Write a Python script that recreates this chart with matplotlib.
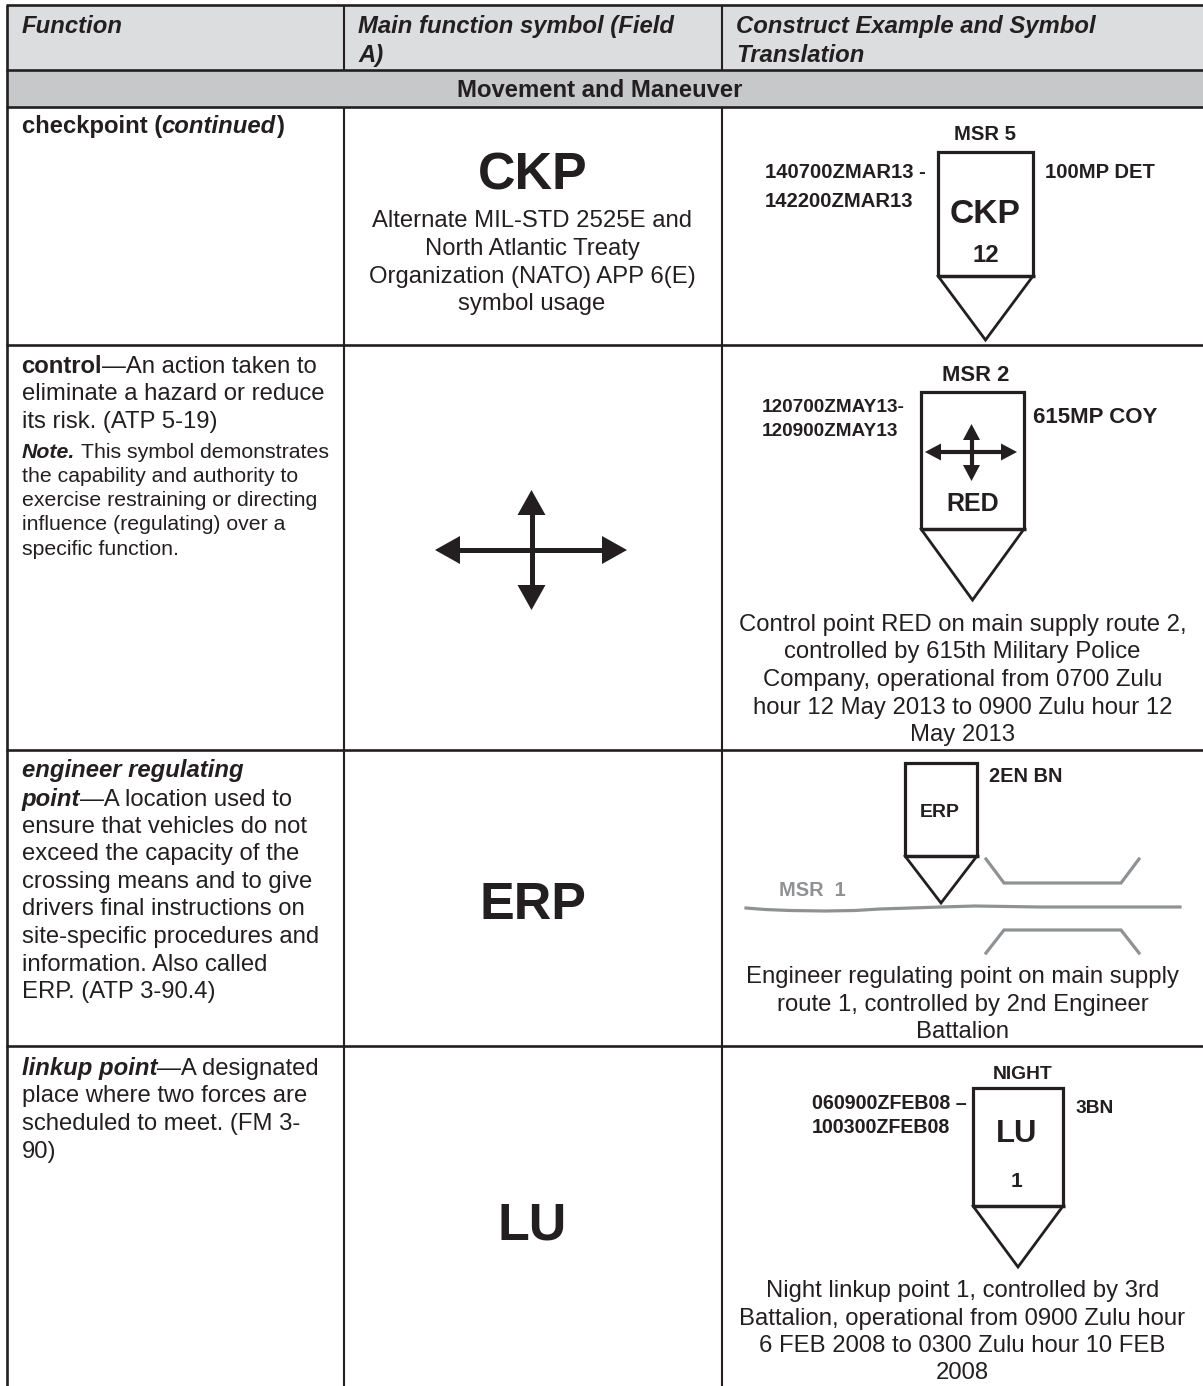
import matplotlib
matplotlib.use("Agg")
import matplotlib.pyplot as plt
from matplotlib.patches import Polygon, Rectangle

plt.rcParams['font.family'] = ['Liberation Sans', 'DejaVu Sans']

INK = '#231f20'
GREY = '#8f9193'
BODY = 23.9
NOTE = 21.3

# table text
header_cols = [["Function"], ["Main function symbol (Field", "A)"], ["Construct Example and Symbol", "Translation"]]
section_title = "Movement and Maneuver"

B, I, BI, R = ('bold', 'normal'), ('normal', 'italic'), ('bold', 'italic'), ('normal', 'normal')

checkpoint_lines = [[("checkpoint (", B), ("continued", BI), (")", B)]]
control_lines = [[("control", B), ("—An action taken to", R)],
                 [("eliminate a hazard or reduce", R)],
                 [("its risk. (ATP 5-19)", R)]]
control_note = [[("Note.", BI), (" This symbol demonstrates", R)],
                [("the capability and authority to", R)],
                [("exercise restraining or directing", R)],
                [("influence (regulating) over a", R)],
                [("specific function.", R)]]
erp_lines = [[("engineer regulating", BI)],
             [("point", BI), ("—A location used to", R)],
             [("ensure that vehicles do not", R)],
             [("exceed the capacity of the", R)],
             [("crossing means and to give", R)],
             [("drivers final instructions on", R)],
             [("site-specific procedures and", R)],
             [("information. Also called", R)],
             [("ERP. (ATP 3-90.4)", R)]]
linkup_lines = [[("linkup point", BI), ("—A designated", R)],
                [("place where two forces are", R)],
                [("scheduled to meet. (FM 3-", R)],
                [("90)", R)]]

ckp_note = ["Alternate MIL-STD 2525E and", "North Atlantic Treaty",
            "Organization (NATO) APP 6(E)", "symbol usage"]
control_caption = ["Control point RED on main supply route 2,", "controlled by 615th Military Police",
                   "Company, operational from 0700 Zulu", "hour 12 May 2013 to 0900 Zulu hour 12", "May 2013"]
erp_caption = ["Engineer regulating point on main supply", "route 1, controlled by 2nd Engineer", "Battalion"]
linkup_caption = ["Night linkup point 1, controlled by 3rd", "Battalion, operational from 0900 Zulu hour",
                  "6 FEB 2008 to 0300 Zulu hour 10 FEB", "2008"]

# grey road in the ERP sketch
road_x = [746, 765, 790, 825, 855, 880, 941, 975, 1040, 1110, 1180]
road_y = [908, 909.5, 910.5, 911, 910.5, 909, 907, 906, 907, 907, 907]
gap_x = [986, 1004, 1121, 1139]
gap_top_y = [859, 883, 883, 859]
gap_bottom_y = [953, 930, 930, 953]

fig = plt.figure(figsize=(12.03, 13.86), dpi=100)
ax = fig.add_axes([0, 0, 1, 1])
ax.set_xlim(0, 1203)
ax.set_ylim(1386, 0)
ax.axis('off')


def put(x, y, s, px, weight='normal', style='normal', ha='left', color=INK):
    # px is the font size in image pixels
    return ax.text(x, y, s, fontsize=px * 0.72, fontweight=weight, fontstyle=style,
                   ha=ha, va='baseline', color=color)


def put_runs(x, y, runs, px):
    # several font styles on one line, each run starts where the last one ended
    rend = fig.canvas.get_renderer()
    for s, (weight, style) in runs:
        if s.startswith(" "):
            x += 0.278 * px
            s = s.strip()
        t = put(x, y, s, px, weight, style)
        x += t.get_window_extent(rend).width


def centered(xc, baselines, lines, px=BODY):
    for y, s in zip(baselines, lines):
        put(xc, y, s, px, ha='center')


def marker_box(x0, x1, top, bottom, tip_x, tip_y):
    ax.plot([x0, x0, x1, x1], [bottom, top, top, bottom], color=INK, lw=2.3,
            solid_joinstyle='miter', solid_capstyle='butt')
    ax.plot([x0 - 1.5, x1 + 1.5], [bottom, bottom], color=INK, lw=2.5, solid_capstyle='butt')
    ax.plot([x0, tip_x, x1], [bottom, tip_y, bottom], color=INK, lw=2.0,
            solid_joinstyle='miter')


def cross(xc, yc, left, right, top, bottom, head, half, lw):
    ax.plot([left + head / 2, right - head / 2], [yc, yc], color=INK, lw=lw, solid_capstyle='butt')
    ax.plot([xc, xc], [top + head / 2, bottom - head / 2], color=INK, lw=lw, solid_capstyle='butt')
    heads = [[(left, yc), (left + head, yc - half), (left + head, yc + half)],
             [(right, yc), (right - head, yc - half), (right - head, yc + half)],
             [(xc, top), (xc - half, top + head), (xc + half, top + head)],
             [(xc, bottom), (xc - half, bottom - head), (xc + half, bottom - head)]]
    for pts in heads:
        ax.add_patch(Polygon(pts, closed=True, fc=INK, ec='none'))


# shaded bands run off the right edge of the page
ax.add_patch(Rectangle((7, 5), 1196, 65, fc='#dcddde', ec='none'))
ax.add_patch(Rectangle((7, 70), 1196, 37, fc='#c7c8ca', ec='none'))

# rules
for y in [5, 70, 107, 345, 750, 1046]:
    ax.plot([6, 1203], [y, y], color=INK, lw=1.9, solid_capstyle='butt')
ax.plot([7, 7], [5, 1386], color=INK, lw=1.9, solid_capstyle='butt')
ax.plot([344, 344], [5, 70], color=INK, lw=1.5, solid_capstyle='butt')
ax.plot([721.5, 721.5], [5, 70], color=INK, lw=1.5, solid_capstyle='butt')
ax.plot([344, 344], [107, 1386], color=INK, lw=1.5, solid_capstyle='butt')
ax.plot([721.5, 721.5], [107, 1386], color=INK, lw=1.5, solid_capstyle='butt')

# header
for x, lines in zip([21.5, 358, 736.5], header_cols):
    for y, s in zip([33, 62], lines):
        put(x, y, s, BODY, 'bold', 'italic')
put(600, 97, section_title, BODY, 'bold', ha='center')

# function column
put_runs(21.5, 133, checkpoint_lines[0], BODY)
for y, runs in zip([373, 400, 428], control_lines):
    put_runs(21.5, y, runs, BODY)
for y, runs in zip([458, 482, 506, 530, 555], control_note):
    put_runs(21.5, y, runs, NOTE)
for y, runs in zip([777, 806, 833, 860, 888, 915, 943, 971, 998], erp_lines):
    put_runs(21.5, y, runs, BODY)
for y, runs in zip([1075, 1102, 1130, 1158], linkup_lines):
    put_runs(21.5, y, runs, BODY)

# main symbol column
put(533, 189, "CKP", 52, 'bold', ha='center')
centered(532, [227, 255, 283, 310], ckp_note)
cross(531.5, 550, 435, 627, 490, 610, 25, 14, 3.6)
put(533, 919, "ERP", 52, 'bold', ha='center')
put(532, 1240, "LU", 52, 'bold', ha='center')

# example column: checkpoint
put(985.5, 140, "MSR 5", 20.3, 'bold', ha='center')
put(765, 178, "140700ZMAR13 -", 20.3, 'bold')
put(765, 207, "142200ZMAR13", 20.3, 'bold')
put(1045, 178, "100MP DET", 20.3, 'bold')
marker_box(938, 1033, 152, 276, 985.5, 340)
put(985.5, 223, "CKP", 33.6, 'bold', ha='center')
put(985.5, 262, "12", 24, 'bold', ha='center')

# example column: control
put(976, 381, "MSR 2", 22, 'bold', ha='center')
put(761.5, 412, "120700ZMAY13-", 19, 'bold')
put(761.5, 436, "120900ZMAY13", 19, 'bold')
put(1033, 423, "615MP COY", 22.3, 'bold')
marker_box(921, 1024, 392, 529, 972.5, 600)
cross(971.5, 452, 925, 1017, 424, 481, 16, 8.5, 3.0)
put(973, 511, "RED", 25, 'bold', ha='center')
centered(962.5, [631, 658, 686, 714, 741], control_caption)

# example column: engineer regulating point
ax.plot(road_x, road_y, color=GREY, lw=2.3)
ax.plot(gap_x, gap_top_y, color=GREY, lw=2.3, solid_joinstyle='miter')
ax.plot(gap_x, gap_bottom_y, color=GREY, lw=2.3, solid_joinstyle='miter')
marker_box(905, 977, 763, 856, 941, 903)
put(989, 782, "2EN BN", 20, 'bold')
put(940, 817, "ERP", 19.5, 'bold', ha='center')
put(779, 896, "MSR  1", 20, 'bold', color=GREY)
centered(963, [983, 1011, 1038], erp_caption)

# example column: linkup point
put(1023, 1079, "NIGHT", 19.3, 'bold', ha='center')
put(812, 1109, "060900ZFEB08 –", 19.6, 'bold')
put(812, 1133, "100300ZFEB08", 19.6, 'bold')
put(1075, 1113, "3BN", 19.2, 'bold')
marker_box(973, 1063, 1088, 1206, 1018, 1267)
put(1017, 1142, "LU", 31, 'bold', ha='center')
put(1017, 1187, "1", 21, 'bold', ha='center')
centered(962.5, [1297, 1325, 1352, 1379], linkup_caption)

fig.savefig("out.png", dpi=100)
